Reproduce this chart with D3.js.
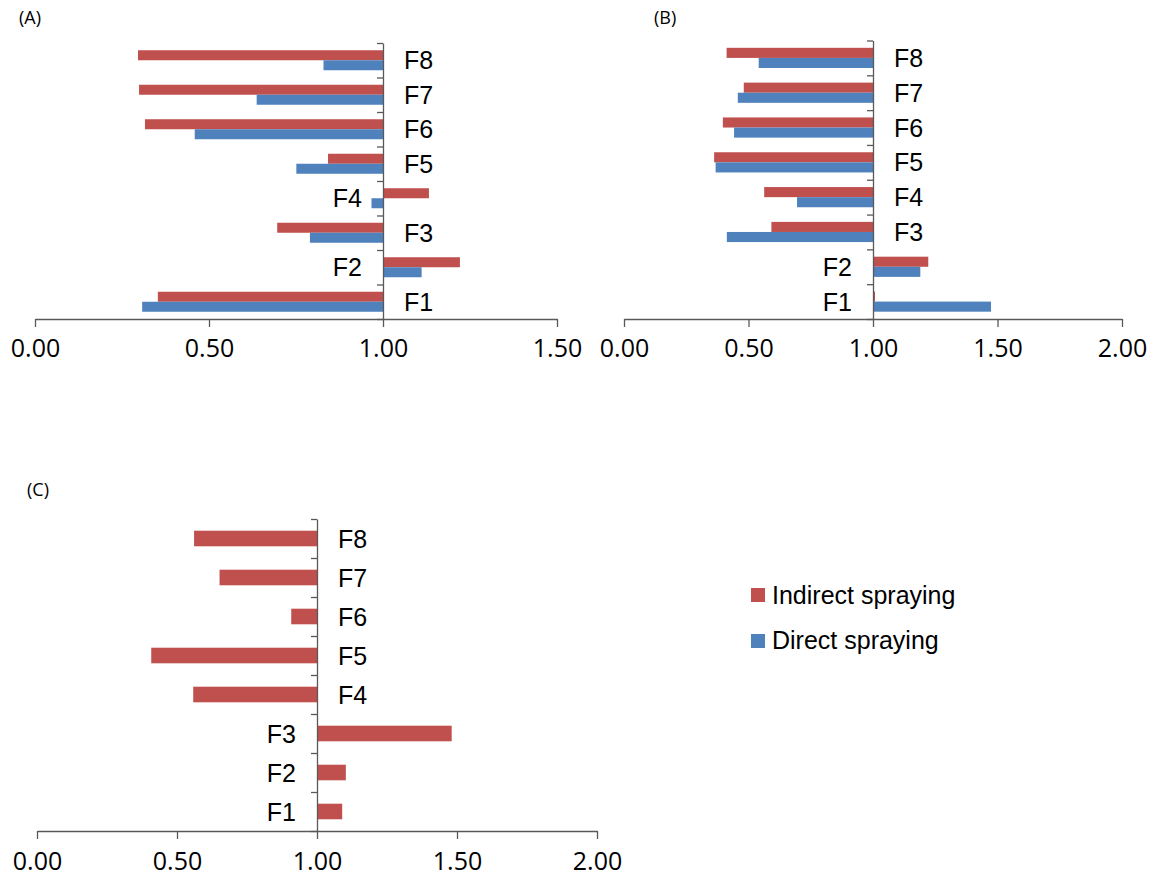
<!DOCTYPE html>
<html><head><meta charset="utf-8">
<script src="https://cdn.jsdelivr.net/npm/d3@7"></script>
<style>body{margin:0;background:#fff}</style>
</head><body>
<svg id="c" width="1162" height="877"></svg>
<script>
const categories = ["F1","F2","F3","F4","F5","F6","F7","F8"];
const seriesNames = ["Indirect spraying","Direct spraying"];
const A_indirect = [0.353,1.221,0.696,1.132,0.842,0.316,0.299,0.296];
const A_direct   = [0.308,1.111,0.790,0.967,0.751,0.459,0.637,0.829];
const B_indirect = [1.008,1.222,0.592,0.563,0.362,0.397,0.481,0.412];
const B_direct   = [1.474,1.190,0.413,0.695,0.368,0.442,0.457,0.541];
const C_indirect = [1.090,1.103,1.481,0.558,0.408,0.908,0.652,0.561];
const ticksA = [0,0.5,1,1.5];
const ticksBC = [0,0.5,1,1.5,2];
const panelLabels = ["(A)","(B)","(C)"];
const colors = {"Indirect spraying":"#C0504D","Direct spraying":"#4F81BD"};

const svg = d3.select("#c");
const FONT = "Liberation Sans, Arial, sans-serif";
const TFONT = "Open Sans, sans-serif";
const AXIS = "#595959";

function panel(cfg){
  const x = d3.scaleLinear().domain(cfg.domain).range([cfg.x0,cfg.x1]);
  const y = d3.scaleBand().domain(categories.slice().reverse()).range([cfg.top,cfg.bottom]).padding(0);
  const bw = y.bandwidth();
  const groupH = bw*cfg.frac;
  const inner = d3.scaleBand().domain(cfg.series.map(s=>s.name)).range([(bw-groupH)/2,(bw+groupH)/2]);
  const g = svg.append("g");
  const base = x(1);
  cfg.series.forEach(s=>{
    g.selectAll(null).data(categories.map((c,i)=>({c,v:s.values[i]}))).enter().append("rect")
      .attr("x",d=>Math.min(x(d.v),base))
      .attr("width",d=>Math.abs(x(d.v)-base))
      .attr("y",d=>y(d.c)+inner(s.name))
      .attr("height",inner.bandwidth())
      .attr("fill",colors[s.name]);
  });
  // x axis
  const xa = g.append("g").attr("transform",`translate(0,${cfg.bottom})`)
    .call(d3.axisBottom(x).tickValues(cfg.ticks).tickFormat(d3.format(".2f")).tickSize(8).tickSizeOuter(0));
  xa.select(".domain").attr("stroke",AXIS).attr("stroke-width",1.3);
  xa.selectAll(".tick line").attr("stroke",AXIS).attr("stroke-width",1.3);
  xa.selectAll(".tick text").attr("y",cfg.labY).attr("dy",0).attr("fill","#000")
    .style("font-family",TFONT).style("font-size","25px");
  // y axis at 1.0 with ticks at band boundaries
  const yl = d3.scaleLinear().domain([0,categories.length]).range([cfg.bottom,cfg.top]);
  const ya = g.append("g").attr("transform",`translate(${base},0)`)
    .call(d3.axisLeft(yl).ticks(categories.length).tickFormat("").tickSize(6).tickSizeOuter(0));
  ya.select(".domain").attr("stroke",AXIS).attr("stroke-width",1.3);
  ya.selectAll(".tick line").attr("stroke",AXIS).attr("stroke-width",1.3);
  // category labels
  g.selectAll(null).data(categories).enter().append("text")
    .attr("x",(c,i)=> cfg.series[0].values[i] > 1 ? base-21 : base+21)
    .attr("y",c=>y(c)+bw/2+9)
    .attr("text-anchor",(c,i)=> cfg.series[0].values[i] > 1 ? "end" : "start")
    .style("font-family",FONT).style("font-size","25px").attr("fill","#000")
    .text(c=>c);
  svg.append("text").attr("x",cfg.lx).attr("y",cfg.ly)
    .style("font-family",TFONT).style("font-size","18px").attr("fill","#000")
    .text(cfg.label);
}

panel({x0:35,x1:557,top:43,bottom:319,domain:[0,1.5],ticks:ticksA,frac:0.58,labY:38,
  series:[{name:seriesNames[0],values:A_indirect},{name:seriesNames[1],values:A_direct}],
  label:panelLabels[0],lx:19,ly:24});
panel({x0:624,x1:1122,top:40.5,bottom:319,domain:[0,2],ticks:ticksBC,frac:0.58,labY:38,
  series:[{name:seriesNames[0],values:B_indirect},{name:seriesNames[1],values:B_direct}],
  label:panelLabels[1],lx:654,ly:24});
panel({x0:37,x1:597,top:519,bottom:831,domain:[0,2],ticks:ticksBC,frac:0.40,labY:38.5,
  series:[{name:seriesNames[0],values:C_indirect}],
  label:panelLabels[2],lx:27,ly:496});

// legend
const leg = svg.append("g");
seriesNames.forEach((n,i)=>{
  leg.append("rect").attr("x",751).attr("y",588+i*46).attr("width",14).attr("height",14).attr("fill",colors[n]);
  leg.append("text").attr("x",772).attr("y",604+i*45)
    .style("font-family",FONT).style("font-size","25px").attr("fill","#000").text(n);
});
</script>
</body></html>
